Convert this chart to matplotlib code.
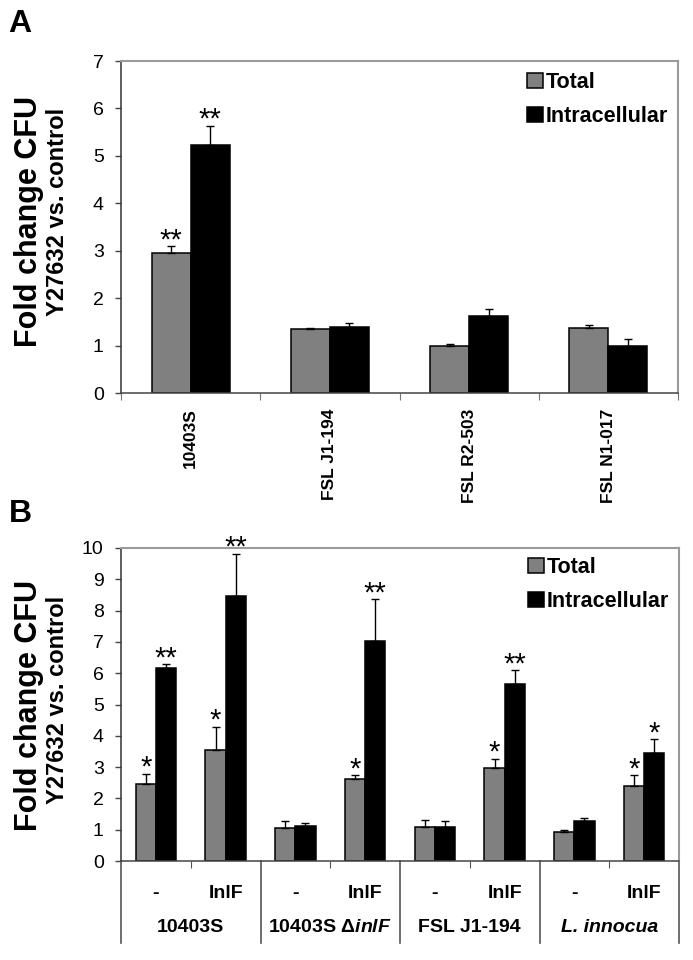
import matplotlib
matplotlib.use('Agg')
import matplotlib.pyplot as plt
import matplotlib.transforms as mtransforms
import numpy as np

plt.rcParams['font.family'] = ['Liberation Sans', 'DejaVu Sans']
plt.rcParams['mathtext.fontset'] = 'custom'
plt.rcParams['mathtext.rm'] = 'Liberation Sans:bold'
plt.rcParams['mathtext.it'] = 'Liberation Sans:italic:bold'
plt.rcParams['mathtext.bf'] = 'Liberation Sans:bold'

# ---------------- data: panel A ----------------
strains_a = ['10403S', 'FSL J1-194', 'FSL R2-503', 'FSL N1-017']
total_a = [2.96, 1.35, 1.00, 1.38]
total_a_err = [0.13, 0.03, 0.04, 0.06]
intra_a = [5.23, 1.40, 1.62, 1.00]
intra_a_err = [0.41, 0.07, 0.16, 0.13]
sig_total_a = ['**', '', '', '']
sig_intra_a = ['**', '', '', '']

# ---------------- data: panel B ----------------
groups_b = ['10403S', r'10403S $\Delta\mathit{inlF}$', 'FSL J1-194', 'L. innocua']
group_italic_b = [False, False, False, True]
treatments_b = ['-', 'InlF', '-', 'InlF', '-', 'InlF', '-', 'InlF']
total_b = [2.45, 3.54, 1.04, 2.61, 1.10, 2.96, 0.93, 2.41]
total_b_err = [0.33, 0.75, 0.24, 0.13, 0.21, 0.31, 0.07, 0.33]
intra_b = [6.17, 8.46, 1.13, 7.02, 1.10, 5.64, 1.29, 3.45]
intra_b_err = [0.12, 1.36, 0.07, 1.34, 0.19, 0.46, 0.09, 0.44]
sig_total_b = ['*', '*', '', '*', '', '*', '', '*']
sig_intra_b = ['**', '**', '', '**', '', '**', '', '*']

series_labels = ['Total', 'Intracellular']
GRAY = '#808080'
W, H = 693, 960

fig = plt.figure(figsize=(W / 100, H / 100), dpi=100)


def px_axes(l, t, r, b):
    return fig.add_axes([l / W, 1 - b / H, (r - l) / W, (b - t) / H])


def draw_bars(ax, tot, tot_e, intr, intr_e, s_tot, s_intr, width):
    x = np.arange(len(tot)) + 0.5
    b1 = ax.bar(x - width / 2, tot, width, color=GRAY, edgecolor='black', linewidth=1.1, zorder=2)
    b2 = ax.bar(x + width / 2, intr, width, color='black', edgecolor='black', linewidth=1.1, zorder=2)
    ax.errorbar(x - width / 2, tot, yerr=[np.zeros(len(tot)), tot_e], fmt='none',
                ecolor='black', elinewidth=1, capsize=3, capthick=1, zorder=3)
    ax.errorbar(x + width / 2, intr, yerr=[np.zeros(len(intr)), intr_e], fmt='none',
                ecolor='black', elinewidth=1, capsize=3, capthick=1, zorder=3)
    for xi, v, e, s in zip(x - width / 2, tot, tot_e, s_tot):
        if s:
            ax.annotate(s, (xi, v + e), xytext=(0, -2), textcoords='offset pixels',
                        ha='center', va='baseline', fontsize=21, zorder=4)
    for xi, v, e, s in zip(x + width / 2, intr, intr_e, s_intr):
        if s:
            ax.annotate(s, (xi, v + e), xytext=(0, -2), textcoords='offset pixels',
                        ha='center', va='baseline', fontsize=21, zorder=4)
    return b1, b2


def style_axes(ax):
    for side in ['top', 'right']:
        ax.spines[side].set_color('#9a9a9a')
        ax.spines[side].set_linewidth(1.5)
    ax.spines['left'].set_color('#333333')
    ax.spines['left'].set_linewidth(1.1)
    ax.spines['bottom'].set_color('#444444')
    ax.spines['bottom'].set_linewidth(1.1)
    ax.tick_params(axis='y', direction='out', length=4.5, width=1, color='#444444',
                   labelsize=14, pad=8)


def add_legend(ax, handles, x0, y0):
    ax.legend(handles, series_labels, loc='upper left', bbox_to_anchor=(x0, y0),
              frameon=False, borderpad=0, borderaxespad=0, handlelength=0.72,
              handleheight=0.72, handletextpad=0.15, labelspacing=0.6,
              prop={'weight': 'bold', 'size': 15.5})


# ---------------- Panel A ----------------
axA = px_axes(121, 61, 678, 393)
bA = draw_bars(axA, total_a, total_a_err, intra_a, intra_a_err, sig_total_a, sig_intra_a, 0.28)
axA.set_xlim(0, len(strains_a))
axA.set_ylim(0, 7)
axA.set_yticks(range(0, 8))
axA.set_xticks(np.arange(0, len(strains_a) + 1))
axA.set_xticklabels([])
axA.set_xticks(np.arange(len(strains_a)) + 0.5, minor=True)
axA.set_xticklabels(strains_a, minor=True, rotation=90, fontweight='bold', fontsize=12.5, va='top')
axA.tick_params(axis='x', which='major', direction='out', length=5, color='#777777')
axA.tick_params(axis='x', which='minor', length=0, pad=11)
style_axes(axA)
add_legend(axA, [bA[0], bA[1]], (527 - 121) / (678 - 121), 1 - (72 - 61) / (393 - 61))

# ---------------- Panel B ----------------
axB = px_axes(121, 548, 679, 861)
bB = draw_bars(axB, total_b, total_b_err, intra_b, intra_b_err, sig_total_b, sig_intra_b, 0.29)
n_b = len(treatments_b)
axB.set_xlim(0, n_b)
axB.set_ylim(0, 10)
axB.set_yticks(range(0, 11))
axB.set_xticks(np.arange(1, n_b, 2))
axB.set_xticklabels([])
axB.tick_params(axis='x', direction='out', length=5, color='#555555')
style_axes(axB)
add_legend(axB, [bB[0], bB[1]], (528 - 121) / (679 - 121), 1 - (557 - 548) / (861 - 548))

# category table below panel B
trans = mtransforms.blended_transform_factory(axB.transData, axB.transAxes)
ax_h = 861 - 548
y_line_end = -(943 - 861) / ax_h
for xs in range(0, n_b + 1, 2):
    axB.plot([xs, xs], [0, y_line_end], transform=trans, color='#555555', lw=1.2,
             clip_on=False, zorder=1)
y_treat = -(893 - 861) / ax_h
y_group = -(928 - 861) / ax_h
for i, t in enumerate(treatments_b):
    axB.text(i + 0.5, y_treat, t, transform=trans, ha='center', va='center',
             fontsize=14, fontweight='bold')
for j, (g, it) in enumerate(zip(groups_b, group_italic_b)):
    axB.text(2 * j + 1, y_group, g, transform=trans, ha='center', va='center',
             fontsize=14, fontweight='bold', style='italic' if it else 'normal')

# axis titles
for (cx, cy, txt, fs) in [(29, 221, 'Fold change CFU', 22), (58, 212, 'Y27632 vs. control', 17),
                          (29, 705, 'Fold change CFU', 22), (58, 700, 'Y27632 vs. control', 17)]:
    fig.text(cx / W, 1 - cy / H, txt, rotation=90, ha='center', va='center',
             fontsize=fs, fontweight='bold')

fig.text(8 / W, 1 - 32 / H, 'A', fontsize=23, fontweight='bold', va='baseline', ha='left')
fig.text(9 / W, 1 - 522 / H, 'B', fontsize=23, fontweight='bold', va='baseline', ha='left')

fig.savefig('out.png', dpi=100)
